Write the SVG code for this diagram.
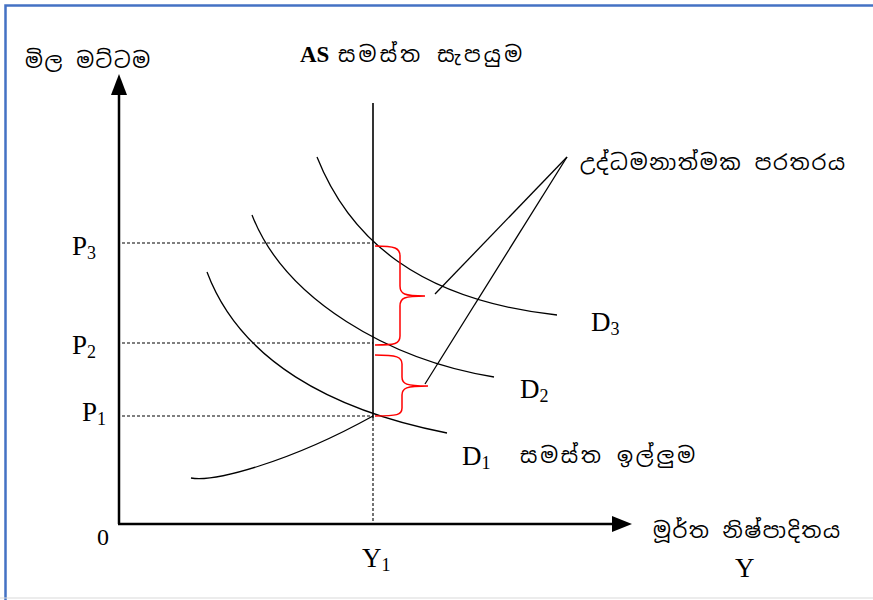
<svg xmlns="http://www.w3.org/2000/svg" width="873" height="600" viewBox="0 0 873 600">
<defs>
<style>
.ln{fill:none;stroke:#000;stroke-width:1.3}
.ax{fill:none;stroke:#000;stroke-width:2.5}
.dash{fill:none;stroke:#000;stroke-width:1.1;stroke-dasharray:3,2}
.br{fill:none;stroke:#ff0000;stroke-width:1.5}
.lbl{font-family:"Liberation Serif","Times New Roman",serif;font-size:27px;fill:#000}
.sub{font-size:18px}
.si{font-family:"Noto Sans Sinhala","Iskoola Pota","Liberation Serif",serif;font-size:21px;fill:#000}
</style>
</defs>
<rect x="0" y="0" width="873" height="600" fill="#fff"/>
<path d="M5.5,600 V5.5 H873" fill="none" stroke="#4472c4" stroke-width="2.5"/>
<line x1="0" y1="598" x2="873" y2="598" stroke="#d9d9d9" stroke-width="1"/>
<g id="axes">
<line class="ax" x1="119" y1="92" x2="119" y2="524"/>
<polygon points="119,74 111,95 127,95" fill="#000"/>
<line class="ax" x1="118" y1="524" x2="614" y2="524"/>
<polygon points="632,524 612,516 612,532" fill="#000"/>
</g>
<g id="connectors">
<line class="dash" x1="122" y1="243" x2="373" y2="243"/>
<line class="dash" x1="122" y1="343" x2="373" y2="343"/>
<line class="dash" x1="122" y1="416" x2="373" y2="416"/>
<line class="dash" x1="373" y1="418" x2="373" y2="524"/>
<line class="ln" x1="567" y1="157" x2="435" y2="294"/>
<line class="ln" x1="567" y1="157" x2="425" y2="384"/>
</g>
<g id="AS">
<line class="ln" x1="373" y1="103" x2="373" y2="418" style="stroke-width:1.6"/>
<path class="ln" d="M191,478 C215,482 290,462 373,416"/>
</g>
<g id="D1"><path class="ln" d="M207,272 C240,360 330,410 447,433"/></g>
<g id="D2"><path class="ln" d="M252,215 C285,300 390,360 494,377"/></g>
<g id="D3"><path class="ln" d="M317,157 C350,240 420,300 557,315"/></g>
<g id="gap1"><path class="br" d="M375,246 C395,246 400,248 400,256 L400,286 C400,294 404,296 425,296 C404,296 400,298 400,306 L400,336 C400,344 395,345 375,345"/></g>
<g id="gap2"><path class="br" d="M375,355 C397,355 402,357 402,364 L402,377 C402,384 406,386 428,386 C406,386 402,388 402,395 L402,408 C402,415 397,416 375,416"/></g>
<g id="labels">
<text class="si" x="25" y="68" textLength="125" lengthAdjust="spacing">මිල මට්ටම</text>
<text class="lbl" x="300" y="62" style="font-size:23px;font-weight:bold">AS</text>
<text class="si" x="338" y="62" textLength="184" lengthAdjust="spacing">සමස්ත සැපයුම</text>
<text class="si" x="580" y="170" textLength="265" lengthAdjust="spacing">උද්ධමනාත්මක පරතරය</text>
<text class="si" x="520" y="463" textLength="175" lengthAdjust="spacing">සමස්ත ඉල්ලුම</text>
<text class="si" x="653" y="538" textLength="187" lengthAdjust="spacing">මූර්ත නිෂ්පාදිතය</text>
<text class="lbl" x="72" y="255">P<tspan class="sub" dy="4">3</tspan></text>
<text class="lbl" x="72" y="354">P<tspan class="sub" dy="4">2</tspan></text>
<text class="lbl" x="82" y="421">P<tspan class="sub" dy="4">1</tspan></text>
<text class="lbl" x="97" y="545" style="font-size:24px">0</text>
<text class="lbl" x="362" y="567">Y<tspan class="sub" dy="4">1</tspan></text>
<text class="lbl" x="735" y="577">Y</text>
<text class="lbl" x="462" y="465">D<tspan class="sub" dy="4">1</tspan></text>
<text class="lbl" x="520" y="398">D<tspan class="sub" dy="4">2</tspan></text>
<text class="lbl" x="591" y="331">D<tspan class="sub" dy="4">3</tspan></text>
</g>
</svg>
